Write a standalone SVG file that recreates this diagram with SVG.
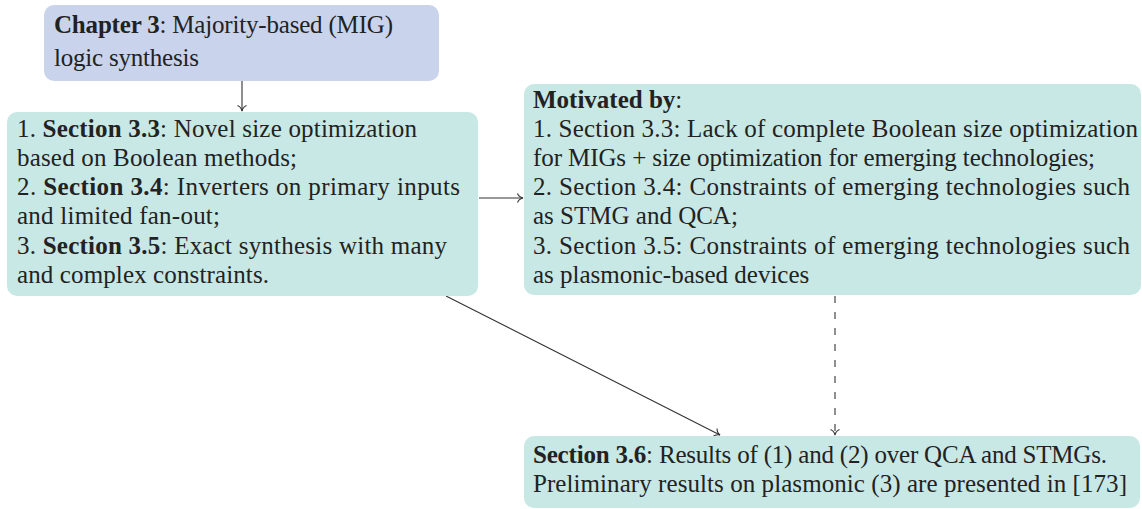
<svg xmlns="http://www.w3.org/2000/svg" width="1142" height="509" viewBox="0 0 1142 509">
<style>
text{font-family:"Liberation Serif","Times New Roman",serif;font-size:25px;fill:#222}
.b{font-weight:bold}
.blue{fill:#c9d4ec}
.teal{fill:#c8e8e5}
.edge{stroke:#333;stroke-width:1.1;fill:none}
.dash{stroke-dasharray:7 9}
</style>
<defs>
<marker id="to" markerUnits="userSpaceOnUse" markerWidth="12" markerHeight="12" viewBox="-7 -6 8 12" refX="0" refY="0" orient="auto">
<path d="M-5.5,-4.5 C-4.5,-1.8 -2,-0.5 0,0 C-2,0.5 -4.5,1.8 -5.5,4.5" fill="none" stroke="#333" stroke-width="1.1"/>
</marker>
</defs>
<g id="connectors">
<line class="edge" x1="242" y1="81" x2="242" y2="111" marker-end="url(#to)"/>
<line class="edge" x1="479" y1="198" x2="523" y2="198" marker-end="url(#to)"/>
<line class="edge" x1="446" y1="296" x2="720" y2="435" marker-end="url(#to)"/>
<line class="edge dash" x1="835" y1="296" x2="835" y2="435" marker-end="url(#to)"/>
</g>
<g id="chapter3">
<rect class="blue" x="44" y="5" width="395" height="76" rx="10"/>
<text x="54" y="33" textLength="339"><tspan class="b">Chapter 3</tspan>: Majority-based (MIG)</text>
<text x="54" y="66" textLength="145">logic synthesis</text>
</g>
<g id="sections">
<rect class="teal" x="7" y="112" width="471" height="184" rx="10"/>
<text x="17" y="137" textLength="400">1. <tspan class="b">Section 3.3</tspan>: Novel size optimization</text>
<text x="17" y="166" textLength="280">based on Boolean methods;</text>
<text x="17" y="195" textLength="443">2. <tspan class="b">Section 3.4</tspan>: Inverters on primary inputs</text>
<text x="17" y="224" textLength="203">and limited fan-out;</text>
<text x="17" y="254" textLength="430">3. <tspan class="b">Section 3.5</tspan>: Exact synthesis with many</text>
<text x="17" y="283" textLength="252">and complex constraints.</text>
</g>
<g id="motivation">
<rect class="teal" x="524" y="84" width="617" height="211" rx="10"/>
<text x="533" y="108"><tspan class="b">Motivated by</tspan>:</text>
<text x="533" y="137" textLength="605">1. Section 3.3: Lack of complete Boolean size optimization</text>
<text x="533" y="166" textLength="562">for MIGs + size optimization for emerging technologies;</text>
<text x="533" y="195" textLength="597">2. Section 3.4: Constraints of emerging technologies such</text>
<text x="533" y="224">as STMG and QCA;</text>
<text x="533" y="254" textLength="597">3. Section 3.5: Constraints of emerging technologies such</text>
<text x="533" y="283">as plasmonic-based devices</text>
</g>
<g id="results">
<rect class="teal" x="524" y="436" width="616" height="72" rx="10"/>
<text x="533" y="463" textLength="574"><tspan class="b">Section 3.6</tspan>: Results of (1) and (2) over QCA and STMGs.</text>
<text x="533" y="492" textLength="594">Preliminary results on plasmonic (3) are presented in [173]</text>
</g>
</svg>
